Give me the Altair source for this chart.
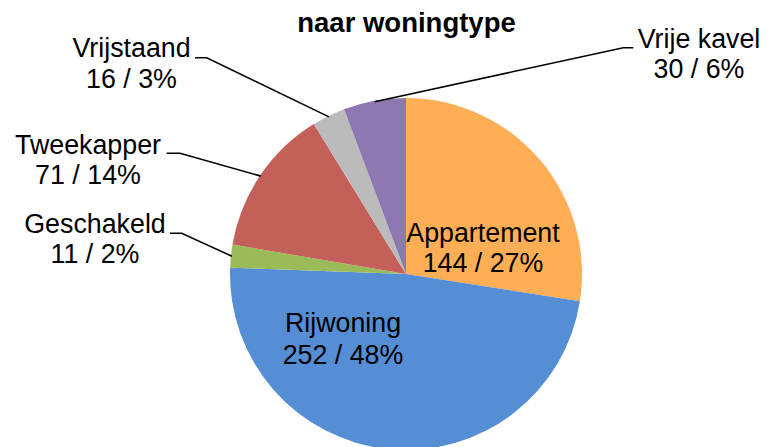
import math
import altair as alt
import pandas as pd

# ---- data ----
categories = ["Appartement", "Rijwoning", "Geschakeld", "Tweekapper", "Vrijstaand", "Vrije kavel"]
values = [144, 252, 11, 71, 16, 30]
colors = ["#FFAE55", "#558ED5", "#9BBB59", "#C4605A", "#BBBBBB", "#8E78B2"]
title_text = "naar woningtype"

# ---- layout (page pixels) ----
M = 8
CX, CY, R = 406 - M, 274 - M, 176
FONT = "Liberation Sans"

# label: center x, baseline line 1, baseline line 2
label_pos = {
    "Appartement": (483, 241.7, 271.7),
    "Rijwoning": (343, 331.7, 364),
    "Geschakeld": (95, 233.3, 263.3),
    "Tweekapper": (88, 154.3, 184.3),
    "Vrijstaand": (131.5, 57.3, 88.3),
    "Vrije kavel": (699, 48.3, 78.3),
}
# leader: elbow point, end point
leader_pos = {
    "Vrije kavel": [(623.3, 47.7), (633.3, 47.7)],
    "Vrijstaand": [(206.7, 57.7), (195, 57.7)],
    "Tweekapper": [(180, 153.3), (166.7, 153.3)],
    "Geschakeld": [(181.7, 233.3), (170, 233.3)],
}

total = sum(values)
pie_df = pd.DataFrame({"cat": categories, "value": values, "idx": list(range(len(values)))})

# text rows
trows = []
for c, v in zip(categories, values):
    cx, y1, y2 = label_pos[c]
    pct = round(v / total * 100)
    trows.append({"x": cx - M, "y": y1 - M, "t": c})
    trows.append({"x": cx - M, "y": y2 - M, "t": f"{v} / {pct}%"})
text_df = pd.DataFrame(trows)

# leader lines: start at slice mid-angle on the pie edge
lrows = []
cum = 0
for c, v in zip(categories, values):
    mid = (cum + v / 2) / total * 2 * math.pi
    cum += v
    if c in leader_pos:
        sx = CX + (R - 1) * math.sin(mid)
        sy = CY - (R - 1) * math.cos(mid)
        pts = [(sx, sy)] + [(px - M, py - M) for px, py in leader_pos[c]]
        for o, (px, py) in enumerate(pts):
            lrows.append({"cat": c, "o": o, "x": px, "y": py})
line_df = pd.DataFrame(lrows)

title_df = pd.DataFrame({"x": [406.5 - M], "y": [32 - M], "t": [title_text]})

pie = alt.Chart(pie_df).mark_arc(radius=R, stroke=None).encode(
    theta=alt.Theta("value:Q", stack=True),
    order=alt.Order("idx:Q"),
    color=alt.Color("cat:N", scale=alt.Scale(domain=categories, range=colors), legend=None),
    x=alt.value(CX),
    y=alt.value(CY),
)

lines = alt.Chart(line_df).mark_line(color="black", strokeWidth=1.6).encode(
    x=alt.X("x:Q", scale=None, axis=None),
    y=alt.Y("y:Q", scale=None, axis=None),
    detail="cat:N",
    order="o:Q",
)

texts = alt.Chart(text_df).mark_text(
    font=FONT, fontSize=26.8, align="center", baseline="alphabetic", color="black"
).encode(
    x=alt.X("x:Q", scale=None, axis=None),
    y=alt.Y("y:Q", scale=None, axis=None),
    text="t:N",
)

title = alt.Chart(title_df).mark_text(
    font=FONT, fontSize=27.5, fontWeight="bold", align="center", baseline="alphabetic", color="black"
).encode(
    x=alt.X("x:Q", scale=None, axis=None),
    y=alt.Y("y:Q", scale=None, axis=None),
    text="t:N",
)

chart = alt.layer(pie, lines, texts, title).properties(
    width=751, height=445, padding=0, autosize=alt.AutoSizeParams(type="none")
).configure_view(stroke=None)

chart.save("out.html", embed_options={"renderer": "svg", "actions": False})
